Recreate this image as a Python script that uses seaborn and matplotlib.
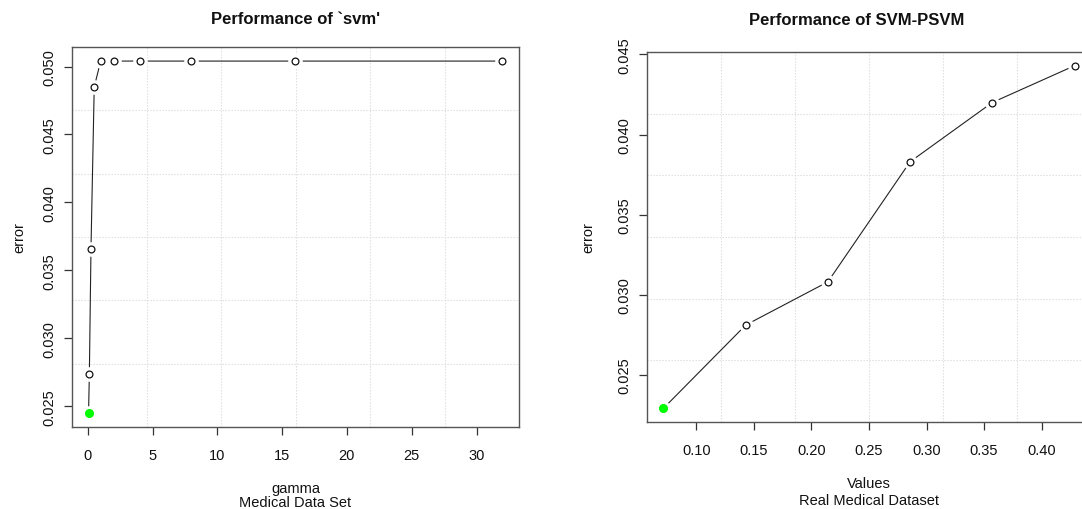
import numpy as np
import pandas as pd
import matplotlib
matplotlib.use("Agg")
import matplotlib.pyplot as plt
from matplotlib.ticker import FixedLocator, FormatStrFormatter
import seaborn as sns

# Tuning results: svm error over gamma
gamma = [0.0625, 0.125, 0.25, 0.5, 1, 2, 4, 8, 16, 32]
svm_error = [0.0245, 0.0274, 0.0366, 0.0485, 0.0504, 0.0504,
             0.0504, 0.0504, 0.0504, 0.0504]

# SVM-PSVM error over parameter values
psvm_values = [0.0714, 0.1429, 0.2143, 0.2857, 0.3571, 0.4286]
psvm_error = [0.0229, 0.0281, 0.0308, 0.0383, 0.0420, 0.0443]

left_xticks = [0, 5, 10, 15, 20, 25, 30]
left_yticks = [0.025, 0.030, 0.035, 0.040, 0.045, 0.050]
right_xticks = [0.10, 0.15, 0.20, 0.25, 0.30, 0.35, 0.40]
right_yticks = [0.025, 0.030, 0.035, 0.040, 0.045]

sns.set_theme(style="white")
plt.rcParams["font.family"] = ["Liberation Sans", "DejaVu Sans"]

W, H = 1082, 510
fig = plt.figure(figsize=(W / 100, H / 100), dpi=100)

FS = 10.5


def px_axes(x0, y0, x1, y1):
    return fig.add_axes([x0 / W, 1 - y1 / H, (x1 - x0) / W, (y1 - y0) / H])


def r_limits(vals, frac=0.04):
    lo, hi = min(vals), max(vals)
    pad = (hi - lo) * frac
    return lo - pad, hi + pad


def draw_panel(ax, x, y, xticks, yticks, xfmt, yfmt, title, title_x,
               xlabel, title_pad, xlabelpad, ylabelpad, linespacing):
    df = pd.DataFrame({"x": x, "y": y})
    ax.set_xlim(*r_limits(x))
    ax.set_ylim(*r_limits(y))

    # dotted grid dividing the plotting region into equal parts
    x0, x1 = ax.get_xlim()
    y0, y1 = ax.get_ylim()
    for k in range(1, 6):
        ax.axvline(x0 + k * (x1 - x0) / 6, color="#dcdcdc", lw=0.8,
                   ls=(0, (1.2, 1.5)), zorder=0)
        ax.axhline(y0 + k * (y1 - y0) / 6, color="#dcdcdc", lw=0.8,
                   ls=(0, (1.2, 1.5)), zorder=0)

    sns.lineplot(data=df, x="x", y="y", ax=ax, color="#222222", lw=0.8,
                 zorder=2, sort=False)
    # white halo to leave a gap between segments and points
    sns.scatterplot(data=df, x="x", y="y", ax=ax, color="white", s=110,
                    linewidth=0, zorder=3)
    sns.scatterplot(data=df, x="x", y="y", ax=ax, facecolor="white",
                    edgecolor="#111111", s=24, linewidth=0.9, zorder=4)
    best = df.loc[[df["y"].idxmin()]]
    sns.scatterplot(data=best, x="x", y="y", ax=ax, color="#00ff00",
                    s=42, linewidth=0, zorder=5)

    ax.xaxis.set_major_locator(FixedLocator(xticks))
    ax.yaxis.set_major_locator(FixedLocator(yticks))
    ax.xaxis.set_major_formatter(FormatStrFormatter(xfmt))
    ax.yaxis.set_major_formatter(FormatStrFormatter(yfmt))
    ax.tick_params(axis="both", direction="out", length=6, width=0.9,
                   color="#333333", labelsize=FS, labelcolor="#111111",
                   bottom=True, left=True)
    ax.tick_params(axis="x", pad=9)
    ax.tick_params(axis="y", pad=5.5)
    for lab in ax.get_yticklabels():
        lab.set_rotation(90)
        lab.set_va("center")

    for s in ax.spines.values():
        s.set_color("#555555")
        s.set_linewidth(1.0)

    ax.set_xlabel(xlabel, fontsize=FS, color="#111111",
                  linespacing=linespacing, labelpad=xlabelpad)
    ax.set_ylabel("error", fontsize=FS, color="#111111", labelpad=ylabelpad)
    ax.set_title(title, fontsize=12, fontweight="bold", color="#111111",
                 pad=title_pad, x=title_x)


ax1 = px_axes(72, 48, 519, 428)
draw_panel(ax1, gamma, svm_error, left_xticks, left_yticks, "%d", "%.3f",
           "Performance of `svm'", 0.5, "gamma\nMedical Data Set",
           17, 13.5, 11.5, 1.05)

ax2 = px_axes(647, 53, 1091, 423)
draw_panel(ax2, psvm_values, psvm_error, right_xticks, right_yticks,
           "%.2f", "%.3f", "Performance of SVM-PSVM", (857 - 647) / 444,
           "Values\nReal Medical Dataset", 20, 14, 15.5, 1.25)

fig.savefig("out.png", dpi=100, facecolor="white")
